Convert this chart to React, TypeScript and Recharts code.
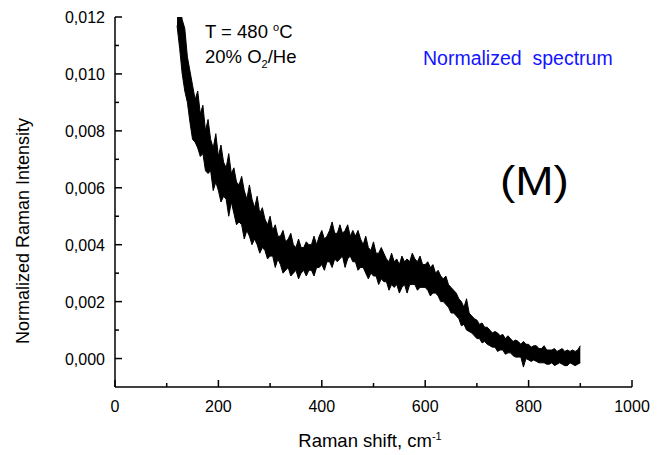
import React from 'react';
import { ComposedChart, Area, XAxis, YAxis } from 'recharts';

// Raman shift grid (cm-1)
const shifts = [
    120, 125, 130, 135, 140, 145, 150, 155, 160, 165, 170, 175, 180, 185, 190, 195,
    200, 205, 210, 215, 220, 225, 230, 235, 240, 245, 250, 255, 260, 265, 270, 275,
    280, 285, 290, 295, 300, 305, 310, 315, 320, 325, 330, 335, 340, 345, 350, 355,
    360, 365, 370, 375, 380, 385, 390, 395, 400, 405, 410, 415, 420, 425, 430, 435,
    440, 445, 450, 455, 460, 465, 470, 475, 480, 485, 490, 495, 500, 505, 510, 515,
    520, 525, 530, 535, 540, 545, 550, 555, 560, 565, 570, 575, 580, 585, 590, 595,
    600, 605, 610, 615, 620, 625, 630, 635, 640, 645, 650, 655, 660, 665, 670, 675,
    680, 685, 690, 695, 700, 705, 710, 715, 720, 725, 730, 735, 740, 745, 750, 755,
    760, 765, 770, 775, 780, 785, 790, 795, 800, 805, 810, 815, 820, 825, 830, 835,
    840, 845, 850, 855, 860, 865, 870, 875, 880, 885, 890, 895, 900,
];

// upper edge of the noisy trace
const intensityHigh = [
    0.0133, 0.0125, 0.0119, 0.0116, 0.0106, 0.0101, 0.0096, 0.0091, 0.0094, 0.0086, 0.0089, 0.0080, 0.0084, 0.0077, 0.0074, 0.0079,
    0.0071, 0.0075, 0.0069, 0.0067, 0.0072, 0.0065, 0.0067, 0.0062, 0.0061, 0.0064, 0.0059, 0.0056, 0.0061, 0.0056, 0.0053, 0.0057,
    0.0051, 0.0053, 0.0049, 0.0047, 0.0050, 0.0045, 0.0047, 0.0043, 0.0043, 0.0045, 0.0041, 0.0042, 0.0044, 0.0040, 0.0039, 0.0042,
    0.0039, 0.0039, 0.0041, 0.0040, 0.0040, 0.0043, 0.0040, 0.0043, 0.0045, 0.0042, 0.0043, 0.0045, 0.0048, 0.0044, 0.0044, 0.0047,
    0.0044, 0.0045, 0.0047, 0.0043, 0.0045, 0.0043, 0.0045, 0.0042, 0.0040, 0.0043, 0.0039, 0.0038, 0.0041, 0.0037, 0.0037, 0.0039,
    0.0037, 0.0035, 0.0034, 0.0037, 0.0034, 0.0035, 0.0033, 0.0036, 0.0034, 0.0035, 0.0034, 0.0037, 0.0035, 0.0034, 0.0036, 0.0033,
    0.0033, 0.0034, 0.0032, 0.0033, 0.0030, 0.0031, 0.0029, 0.0028, 0.0029, 0.0026, 0.0025, 0.0024, 0.0023, 0.0021, 0.0020, 0.0018,
    0.0021, 0.0016, 0.0015, 0.0014, 0.00135, 0.0012, 0.00125, 0.0011, 0.0011, 0.0010, 0.0009, 0.00095, 0.0009, 0.0008, 0.00085, 0.0007,
    0.0008, 0.0007, 0.0006, 0.00065, 0.0006, 0.0005, 0.0006, 0.0005, 0.0005, 0.0004, 0.00045, 0.00045, 0.00035, 0.00035, 0.00045, 0.0003,
    0.0003, 0.0003, 0.00035, 0.00025, 0.0003, 0.00035, 0.00025, 0.0003, 0.00025, 0.0003, 0.00025, 0.0003, 0.00045,
];

// lower edge of the noisy trace
const intensityLow = [
    0.0117, 0.0109, 0.0100, 0.0094, 0.0090, 0.0083, 0.0077, 0.0076, 0.0074, 0.0071, 0.0072, 0.0066, 0.0065, 0.0066, 0.0059, 0.0062,
    0.0059, 0.0055, 0.0057, 0.0056, 0.0050, 0.0055, 0.0051, 0.0047, 0.0048, 0.0047, 0.0042, 0.0045, 0.0043, 0.0040, 0.0042, 0.0040,
    0.0037, 0.0039, 0.0038, 0.0035, 0.0036, 0.0036, 0.0032, 0.0035, 0.0033, 0.0030, 0.0031, 0.0032, 0.0029, 0.0030, 0.0031, 0.0028,
    0.0030, 0.0031, 0.0029, 0.0031, 0.0031, 0.0029, 0.0032, 0.0032, 0.0033, 0.0031, 0.0034, 0.0034, 0.0032, 0.0035, 0.0034, 0.0035,
    0.0036, 0.0032, 0.0035, 0.0036, 0.0034, 0.0034, 0.0031, 0.0032, 0.0032, 0.0030, 0.0028, 0.0030, 0.0029, 0.0029, 0.0026, 0.0028,
    0.0027, 0.0027, 0.0024, 0.0026, 0.0025, 0.0026, 0.0023, 0.0025, 0.0026, 0.0023, 0.0026, 0.0026, 0.0026, 0.0024, 0.0025, 0.0025,
    0.0025, 0.0024, 0.0022, 0.0023, 0.0023, 0.0022, 0.0020, 0.0020, 0.0019, 0.0018, 0.0016, 0.0016, 0.0015, 0.0014, 0.00115, 0.0012,
    0.0010, 0.00095, 0.0009, 0.0008, 0.0007, 0.0007, 0.00055, 0.0006, 0.0005, 0.00045, 0.0004, 0.0004, 0.00025, 0.0003, 0.0003, 0.00015,
    0.0002, 0.0002, 0.0001, 0.00005, 0.00005, 0.00005, -0.0003, 0.0, -0.00005, -0.0001, -0.00005, -0.0001, -0.00015, -0.00015, -0.00015, -0.0002,
    -0.0002, -0.00015, -0.00025, -0.0002, -0.00015, -0.0002, -0.00025, -0.00025, -0.00015, -0.0002, -0.00025, -0.0002, -0.00015,
];

const xTicks = [0, 100, 200, 300, 400, 500, 600, 700, 800, 900, 1000];
const yTicks = [0, 0.001, 0.002, 0.003, 0.004, 0.005, 0.006, 0.007, 0.008, 0.009, 0.010, 0.011, 0.012];

const FONT = '"Liberation Sans", Arial, sans-serif';

const XTick = (props: any) => {
    const { x, y, payload } = props;
    const major = payload.value % 200 === 0;
    return (
        <g>
            <line x1={x} x2={x} y1={y} y2={y - (major ? 7 : 4)} stroke="#000" strokeWidth={1.5} />
            {major && (
                <text x={x} y={y + 25} textAnchor="middle" fontSize={16} fontFamily={FONT} fill="#000">
                    {payload.value}
                </text>
            )}
        </g>
    );
};

const YTick = (props: any) => {
    const { x, y, payload } = props;
    const major = Math.round(payload.value * 1000) % 2 === 0;
    return (
        <g>
            <line x1={x} x2={x + (major ? 7 : 4)} y1={y} y2={y} stroke="#000" strokeWidth={1.5} />
            {major && (
                <text x={x - 10} y={y + 6} textAnchor="end" fontSize={16} fontFamily={FONT} fill="#000">
                    {payload.value.toFixed(3).replace('.', ',')}
                </text>
            )}
        </g>
    );
};

export default function App() {
    const data = shifts.map((s, i) => ({ shift: s, band: [intensityLow[i], intensityHigh[i]] }));

    return (
        <div style={{ position: 'absolute', left: 0, top: 0, width: 671, height: 455, background: '#fff' }}>
            <ComposedChart width={671} height={455} data={data} margin={{ top: 17, right: 39, bottom: 38, left: 55 }}>
                <XAxis
                    type="number"
                    dataKey="shift"
                    domain={[0, 1000]}
                    ticks={xTicks}
                    interval={0}
                    tickSize={0}
                    tickMargin={0}
                    tickLine={false}
                    tick={<XTick />}
                    axisLine={{ stroke: '#000', strokeWidth: 1.5 }}
                    height={30}
                />
                <YAxis
                    type="number"
                    domain={[-0.001, 0.012]}
                    allowDataOverflow
                    ticks={yTicks}
                    interval={0}
                    tickSize={0}
                    tickMargin={0}
                    tickLine={false}
                    tick={<YTick />}
                    axisLine={{ stroke: '#000', strokeWidth: 1.5 }}
                    width={60}
                />
                <Area
                    type="linear"
                    dataKey="band"
                    stroke="#000"
                    strokeWidth={1}
                    fill="#000"
                    fillOpacity={1}
                    isAnimationActive={false}
                    dot={false}
                    activeDot={false}
                />
            </ComposedChart>
            <svg width={671} height={455} style={{ position: 'absolute', left: 0, top: 0, pointerEvents: 'none' }}>
                <text transform="translate(29,231) rotate(-90)" textAnchor="middle" fontSize={18} fontFamily={FONT} fill="#000">
                    Normalized Raman Intensity
                </text>
                <text x={370} y={447} textAnchor="middle" fontSize={18.5} fontFamily={FONT} fill="#000">
                    Raman shift, cm<tspan dy={-7} fontSize={11}>-1</tspan>
                </text>
                <text x={205} y={38} fontSize={18.5} fontFamily={FONT} fill="#000">
                    T = 480 <tspan dy={-7} fontSize={11}>o</tspan><tspan dy={7}>C</tspan>
                </text>
                <text x={205} y={63} fontSize={18.5} fontFamily={FONT} fill="#000">
                    20% O<tspan dy={5} fontSize={11}>2</tspan><tspan dy={-5}>/He</tspan>
                </text>
                <text x={423} y={65} fontSize={19.5} fontFamily={FONT} fill="#1414ff" style={{ whiteSpace: 'pre' }}>
                    Normalized  spectrum
                </text>
                <text transform="translate(500,195) scale(1.15,1)" fontSize={40} fontFamily={FONT} fill="#000">
                    (M)
                </text>
            </svg>
        </div>
    );
}
